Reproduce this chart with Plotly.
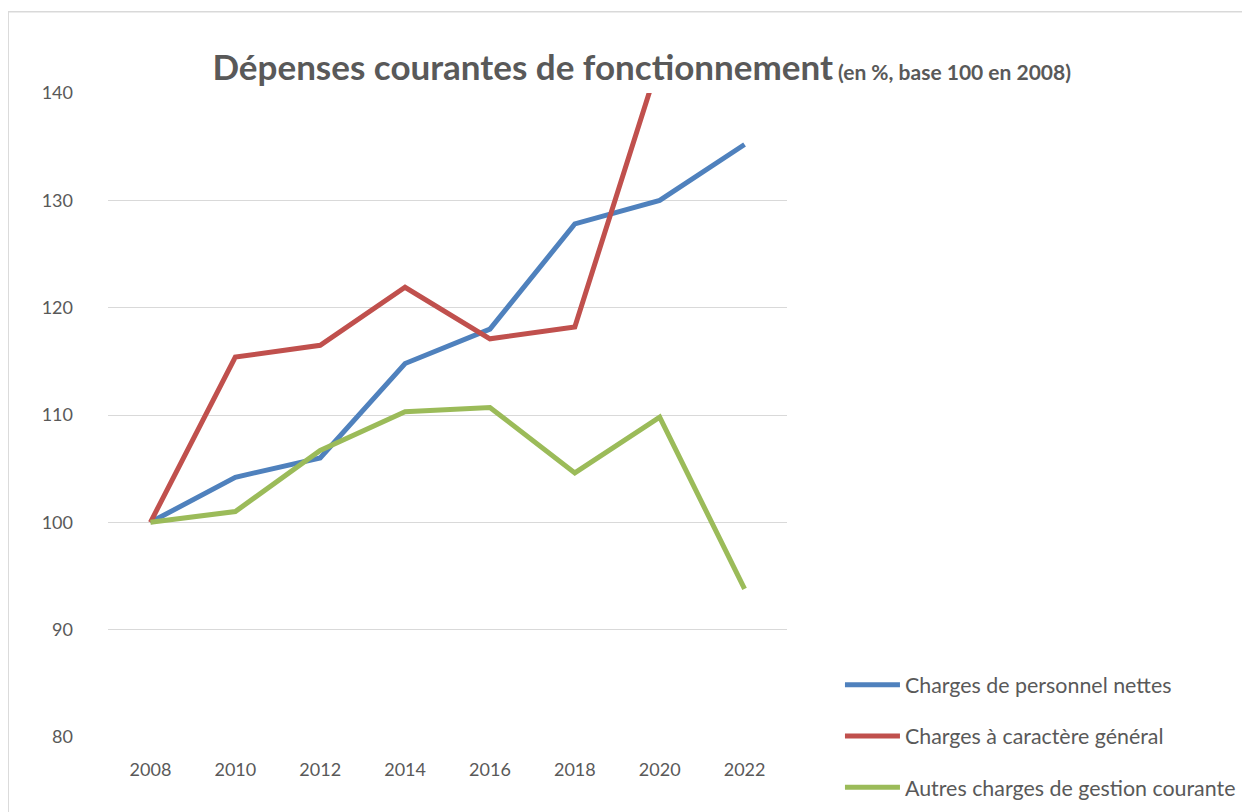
import plotly.graph_objects as go

years = ["2008", "2010", "2012", "2014", "2016", "2018", "2020", "2022"]
personnel = [100, 104.2, 106.0, 114.8, 118.0, 127.8, 130.0, 135.2]
general = [100, 115.4, 116.5, 121.9, 117.1, 118.2, 143.1, 148.0]
autres = [100, 101.0, 106.7, 110.3, 110.7, 104.6, 109.8, 93.8]

names = ["Charges de personnel nettes", "Charges à caractère général", "Autres charges de gestion courante"]
colors = ["#4F81BD", "#C0504D", "#9BBB59"]
series = [personnel, general, autres]

FONT = "Lato"
GREY = "#595959"

fig = go.Figure()
for i, (n, c, s) in enumerate(zip(names, colors, series)):
    fig.add_trace(go.Scatter(x=years, y=s, name=n, mode="lines",
                             line=dict(color=c, width=5),
                             legendgroup=str(i)))

fig.update_layout(
    width=1250, height=812,
    margin=dict(l=100, r=471, t=85, b=83, autoexpand=False),
    paper_bgcolor="white", plot_bgcolor="white",
    font=dict(family=FONT, color=GREY, size=18),
    title=dict(
        text="<b>Dépenses courantes de fonctionnement</b><span style='font-size:21px'><b> (en %, base 100 en 2008)</b></span>",
        font=dict(family=FONT, size=35, color=GREY),
        x=0.507, xanchor="center", xref="container",
        y=0.926, yanchor="middle", yref="container"),
    xaxis=dict(type="category", range=[-0.5, 7.5], showgrid=False,
               showline=False, ticks="", tickfont=dict(size=18, color=GREY),
               ticklabelstandoff=20),
    yaxis=dict(range=[80, 140], dtick=10, showgrid=True, gridcolor="#D9D9D9",
               gridwidth=1.3, zeroline=False, showline=False, ticks="",
               tickfont=dict(size=18, color=GREY), ticklabelstandoff=34),
    legend=dict(x=1.078, xanchor="left", y=0.113, yanchor="top",
                traceorder="grouped", tracegroupgap=20.5,
                font=dict(size=21.4, color=GREY), itemwidth=55,
                bgcolor="rgba(0,0,0,0)"),
    shapes=[dict(type="rect", xref="paper", yref="paper",
                 x0=-0.147, x1=2.0, y0=-1.0, y1=1.126,
                 line=dict(color="#D9D9D9", width=1.5), layer="below")],
)

fig.write_html("out.html")
